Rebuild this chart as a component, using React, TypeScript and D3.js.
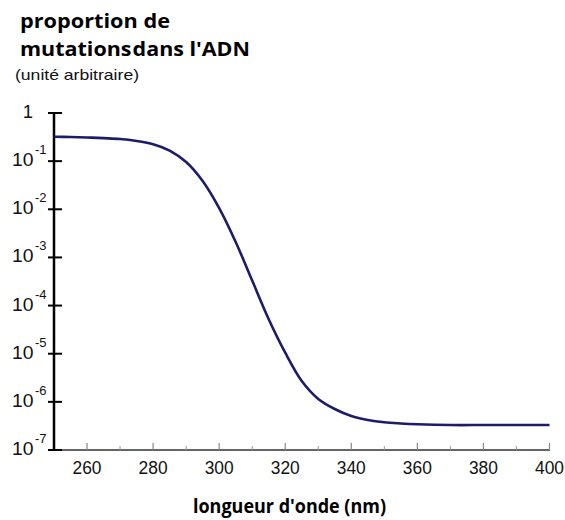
import * as d3 from "d3";

// wavelength (nm) and relative mutation proportion
const wavelengths = [
  250, 255, 260, 265, 270, 275, 280, 285, 290, 295, 300, 305, 310, 315, 320,
  325, 330, 335, 340, 345, 350, 355, 360, 370, 380, 390, 400,
];
const mutations = [
  0.32, 0.317, 0.31, 0.3, 0.288, 0.262, 0.225, 0.166, 0.096, 0.0387, 0.0106,
  2.1e-3, 3.3e-4, 5.2e-5, 1.05e-5, 2.71e-6, 1.15e-6, 7.1e-7, 5.08e-7, 4.2e-7,
  3.76e-7, 3.56e-7, 3.43e-7, 3.3e-7, 3.3e-7, 3.3e-7, 3.3e-7,
];
const xTicks = [260, 280, 300, 320, 340, 360, 380, 400];
const xMinorTicks = [270, 290, 310, 330, 350, 370, 390];
const yTicks = [1, 1e-1, 1e-2, 1e-3, 1e-4, 1e-5, 1e-6, 1e-7];

const W = 565;
const H = 520;
const SANS = "'Liberation Sans', Arial, sans-serif";
const BOLD = "'Open Sans', sans-serif";

export default function App() {
  const x = d3.scaleLinear().domain([250, 400]).range([54, 549.5]);
  const y = d3.scaleLog().domain([1e-7, 1]).range([450, 113]);

  const line = d3
    .line<number>()
    .x((_, i) => x(wavelengths[i]))
    .y((d) => y(d))
    .curve(d3.curveCatmullRom.alpha(0.5));

  const exp = (v: number) => Math.round(Math.log10(v));

  return (
    <svg
      width={W}
      height={H}
      style={{ position: "absolute", left: 0, top: 0, background: "#fff" }}
    >
      {/* titles */}
      <g fontFamily={BOLD} fontWeight="bold" fill="#000" fontSize={20}>
        <text x={20} y={28} textLength={150} lengthAdjust="spacingAndGlyphs">
          proportion de
        </text>
        <text x={20} y={56} textLength={230} lengthAdjust="spacingAndGlyphs">
          <tspan>mutations</tspan>
          <tspan dx={1}>dans l'ADN</tspan>
        </text>
        <text x={193} y={513} textLength={193} lengthAdjust="spacingAndGlyphs">
          longueur d'onde (nm)
        </text>
      </g>
      <text
        x={15}
        y={80}
        fontSize={14.5}
        fontFamily={SANS}
        fill="#111"
        textLength={124}
        lengthAdjust="spacingAndGlyphs"
      >
        (unité arbitraire)
      </text>

      {/* x axis */}
      <line x1={54} x2={550} y1={450} y2={450} stroke="#333" strokeWidth={1.5} />
      {xTicks.map((t) => (
        <g key={t}>
          <line
            x1={x(t)}
            x2={x(t)}
            y1={450}
            y2={443}
            stroke="#888"
            strokeWidth={1.2}
          />
          <text
            x={x(t)}
            y={474}
            textAnchor="middle"
            fontSize={18}
            fontFamily={SANS}
            fill="#111"
            textLength={29}
            lengthAdjust="spacingAndGlyphs"
          >
            {t}
          </text>
        </g>
      ))}
      {xMinorTicks.map((t) => (
        <line
          key={t}
          x1={x(t)}
          x2={x(t)}
          y1={450}
          y2={446}
          stroke="#999"
          strokeWidth={1}
        />
      ))}

      {/* y axis */}
      <line
        x1={54}
        x2={54}
        y1={y(1)}
        y2={451}
        stroke="#000"
        strokeWidth={2.5}
      />
      {yTicks.map((t) => {
        const ty = y(t);
        const e = exp(t);
        return (
          <g key={t} fontFamily={SANS} fill="#111">
            <line x1={48} x2={62} y1={ty} y2={ty} stroke="#000" strokeWidth={2} />
            {e === 0 ? (
              <text x={33} y={ty + 5} textAnchor="end" fontSize={18.5}>
                1
              </text>
            ) : (
              <>
                <text
                  x={12}
                  y={ty + 5}
                  fontSize={18.5}
                  textLength={21.5}
                  lengthAdjust="spacingAndGlyphs"
                >
                  10
                </text>
                <text x={35} y={ty - 7} fontSize={13}>
                  {e}
                </text>
              </>
            )}
          </g>
        );
      })}

      {/* curve */}
      <path
        d={line(mutations) ?? ""}
        fill="none"
        stroke="#1c1c6b"
        strokeWidth={2.6}
        strokeLinejoin="round"
      />
    </svg>
  );
}
